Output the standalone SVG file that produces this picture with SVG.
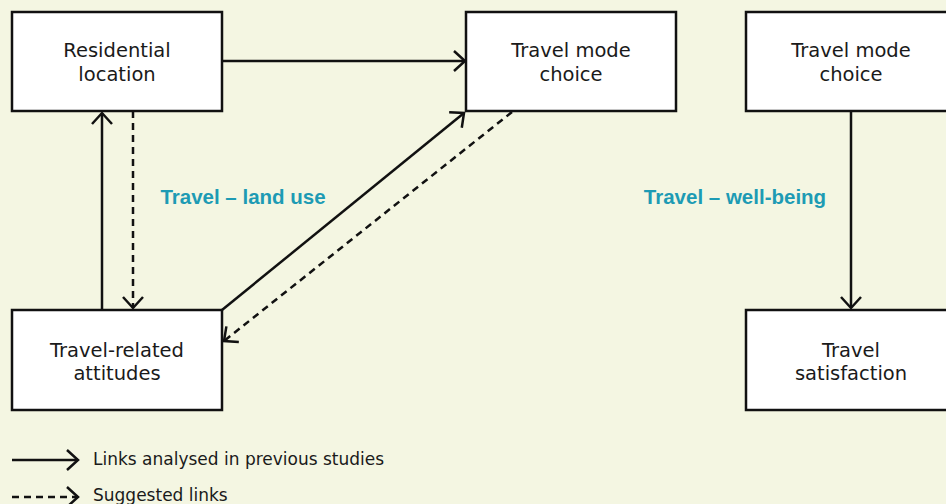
<svg xmlns="http://www.w3.org/2000/svg" width="946" height="504" viewBox="0 0 946 504">
  <defs>
    <style>
      .box { fill: #ffffff; stroke: #111111; stroke-width: 2.5; }
      .label { font-family: "DejaVu Sans", "Liberation Sans", sans-serif; font-size: 19.5px; fill: #1a1a1a; text-anchor: middle; }
      .group { font-family: "Liberation Sans", "Arial", sans-serif; font-size: 20.5px; font-weight: bold; fill: #1d9bb4; text-anchor: middle; }
      .legend { font-family: "DejaVu Sans", "Liberation Sans", sans-serif; font-size: 17px; fill: #1a1a1a; }
      .link { fill: none; stroke: #111111; stroke-width: 2.5; marker-end: url(#head); }
      .dashed { stroke-dasharray: 7 5; }
    </style>
    <marker id="head" markerUnits="userSpaceOnUse" markerWidth="30" markerHeight="30" viewBox="-15 -15 30 30" refX="0" refY="0" orient="auto">
      <path d="M-11,-10 L0,0 L-11,10" fill="none" stroke="#111111" stroke-width="2.5"/>
    </marker>
  </defs>

  <rect width="946" height="504" fill="#f4f6e2"/>

  <!-- connectors -->
  <g id="connectors">
    <line class="link" x1="222" y1="61" x2="465" y2="61"/>
    <line class="link" x1="102" y1="310" x2="102" y2="113"/>
    <line class="link dashed" x1="133" y1="111" x2="133" y2="308"/>
    <line class="link" x1="222" y1="310" x2="464" y2="113"/>
    <line class="link dashed" x1="512" y1="112" x2="224" y2="341"/>
    <line class="link" x1="851" y1="111" x2="851" y2="308"/>
  </g>

  <!-- nodes -->
  <g id="residential-location">
    <rect class="box" x="12" y="12" width="210" height="99"/>
    <text class="label" x="117" y="57">Residential</text>
    <text class="label" x="117" y="81">location</text>
  </g>
  <g id="travel-mode-choice">
    <rect class="box" x="466" y="12" width="210" height="99"/>
    <text class="label" x="571" y="57">Travel mode</text>
    <text class="label" x="571" y="81">choice</text>
  </g>
  <g id="travel-related-attitudes">
    <rect class="box" x="12" y="310" width="210" height="100"/>
    <text class="label" x="117" y="357">Travel-related</text>
    <text class="label" x="117" y="380">attitudes</text>
  </g>
  <g id="travel-mode-choice-2">
    <rect class="box" x="746" y="12" width="210" height="99"/>
    <text class="label" x="851" y="57">Travel mode</text>
    <text class="label" x="851" y="81">choice</text>
  </g>
  <g id="travel-satisfaction">
    <rect class="box" x="746" y="310" width="210" height="100"/>
    <text class="label" x="851" y="357">Travel</text>
    <text class="label" x="851" y="380">satisfaction</text>
  </g>

  <!-- group labels -->
  <text class="group" x="243" y="204">Travel – land use</text>
  <text class="group" x="735" y="204">Travel – well-being</text>

  <!-- legend -->
  <g id="legend">
    <line class="link" x1="12" y1="460" x2="78" y2="460"/>
    <text class="legend" x="93" y="465">Links analysed in previous studies</text>
    <line class="link dashed" x1="12" y1="497" x2="78" y2="497"/>
    <text class="legend" x="93" y="501">Suggested links</text>
  </g>
</svg>
